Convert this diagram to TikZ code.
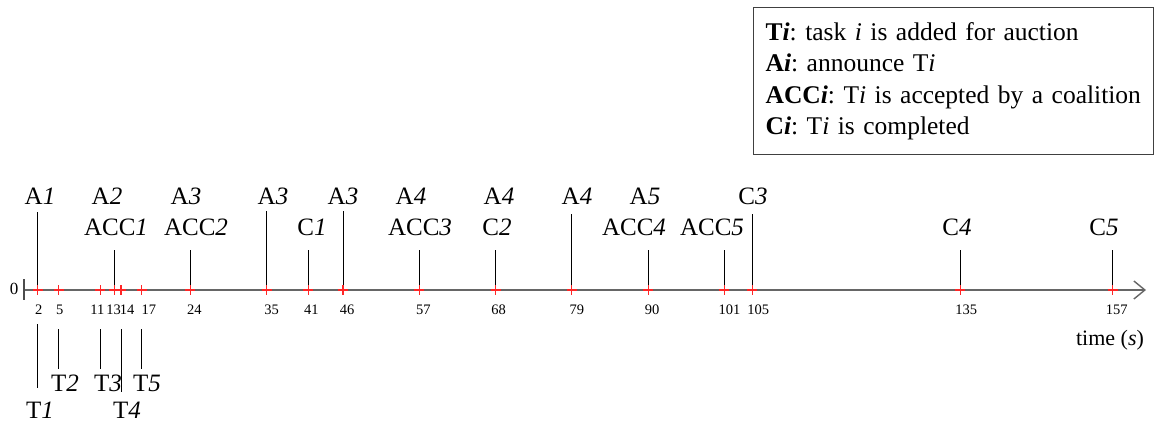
\documentclass[tikz,border=0pt]{standalone}
\usepackage{fontspec}
\setmainfont{Liberation Serif}
\usetikzlibrary{arrows.meta}
\frenchspacing
\begin{document}
\begin{tikzpicture}[x=1pt,y=-1pt,
  evline/.style={black, line width=0.9pt},
  lab/.style={font=\fontsize{25}{25}\selectfont, inner sep=0pt},
  num/.style={font=\fontsize{14.5}{14.5}\selectfont, inner sep=0pt},
  redtick/.style={red!85!white, line width=1.2pt},
  axisline/.style={black!60, line width=1.8pt},
  legendbox/.style={draw=black!75, line width=1.2pt, anchor=north west,
    minimum width=400pt, minimum height=147pt, text width=376pt,
    inner xsep=12pt, align=left,
    font=\fontsize{25.5}{31.5}\selectfont}
]
\useasboundingbox (0,0) rectangle (1154,428);
\def\sc{6.935}

% legend
\node[legendbox] (legend) at (753,7) {%
\textbf{T\textit{i}}: task \textit{i} is added for auction\\
\textbf{A\textit{i}}: announce T\textit{i}\\
\textbf{ACC\textit{i}}: T\textit{i} is accepted by a coalition\\
\textbf{C\textit{i}}: T\textit{i} is completed};

% axis
\coordinate (origin) at (24,290);
\coordinate (axend) at (1146,290);
\coordinate (s0a) at (24,279);
\coordinate (s0b) at (24,300);
\draw[axisline, -{Straight Barb[length=11pt,width=18pt,line width=1.4pt]}] (origin) -- (axend);
\draw[black!70, line width=1.5pt] (s0a) -- (s0b);
\node[font=\fontsize{17}{17}\selectfont, inner sep=0pt] (zero) at (14,289) {0};

% axis points
\foreach \t in {2,5,11,13,14,17,24,35,41,46,57,68,79,90,101,105,135,157}{
  \coordinate (t\t) at ({24+\sc*\t},290);
}

% upper event lines
\foreach \t/\h in {2/212,13/250,24/250,35/211,41/250,46/211,57/250,68/250,79/214,90/250,101/250,105/214,135/250,157/250}{
  \coordinate (u\t) at ({24+\sc*\t},\h);
  \draw[evline] (t\t) -- (u\t);
}

% lower event lines
\foreach \t/\a/\b in {2/324/388,5/329/369,11/329/369,14/329/392,17/329/369}{
  \coordinate (da\t) at ({24+\sc*\t},\a);
  \coordinate (db\t) at ({24+\sc*\t},\b);
  \draw[evline] (da\t) -- (db\t);
}

% red tick marks
\foreach \t in {2,5,11,13,14,17,24,35,41,46,57,68,79,90,101,105,135,157}{
  \coordinate (ra\t) at ({24+\sc*\t},285);
  \coordinate (rb\t) at ({24+\sc*\t},295);
  \coordinate (rc\t) at ({24+\sc*\t-5},290);
  \coordinate (rd\t) at ({24+\sc*\t+5},290);
  \draw[redtick] (ra\t) -- (rb\t);
  \draw[redtick] (rc\t) -- (rd\t);
}

% tick numbers
\foreach \t/\dx in {2/1,5/1,11/-3,13/-0.5,14/6,17/7,24/4,35/5,41/3,46/4,57/4,68/3,79/5,90/4,101/5,105/6,135/6,157/4}{
  \node[num] (n\t) at ({24+\sc*\t+\dx},310) {\t};
}

% upper labels
\node[lab] (lA1)   at (40,196)  {A\textit{1}};
\node[lab] (lA2)   at (107,196) {A\textit{2}};
\node[lab] (lACC1) at (116,227) {ACC\textit{1}};
\node[lab] (lA3a)  at (186,196) {A\textit{3}};
\node[lab] (lACC2) at (196,227) {ACC\textit{2}};
\node[lab] (lA3b)  at (273,196) {A\textit{3}};
\node[lab] (lC1)   at (312,227) {C\textit{1}};
\node[lab] (lA3c)  at (343,196) {A\textit{3}};
\node[lab] (lA4a)  at (411,196) {A\textit{4}};
\node[lab] (lACC3) at (420,227) {ACC\textit{3}};
\node[lab] (lA4b)  at (499,196) {A\textit{4}};
\node[lab] (lC2)   at (497,227) {C\textit{2}};
\node[lab] (lA4c)  at (577,196) {A\textit{4}};
\node[lab] (lA5)   at (645,196) {A\textit{5}};
\node[lab] (lACC4) at (634,227) {ACC\textit{4}};
\node[lab] (lACC5) at (712,227) {ACC\textit{5}};
\node[lab] (lC3)   at (753,196) {C\textit{3}};
\node[lab] (lC4)   at (957,227) {C\textit{4}};
\node[lab] (lC5)   at (1104,227) {C\textit{5}};

% lower labels
\node[lab] (lT1) at (40,410)  {T\textit{1}};
\node[lab] (lT2) at (65,383)  {T\textit{2}};
\node[lab] (lT3) at (108,383) {T\textit{3}};
\node[lab] (lT4) at (127,410) {T\textit{4}};
\node[lab] (lT5) at (147,383) {T\textit{5}};

% axis title
\node[font=\fontsize{22}{22}\selectfont, inner sep=0pt] (ttl) at (1110,340) {time (\textit{s})};
\end{tikzpicture}
\end{document}
